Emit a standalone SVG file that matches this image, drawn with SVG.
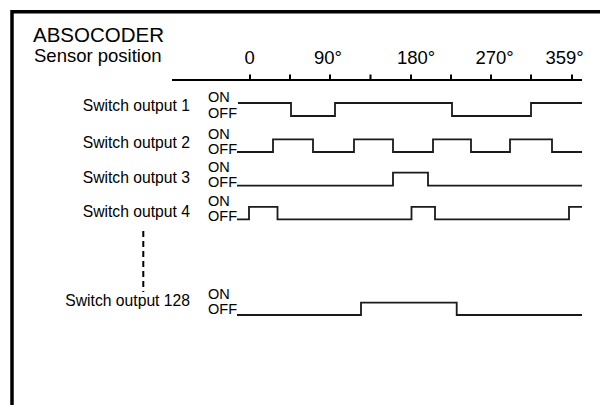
<svg xmlns="http://www.w3.org/2000/svg" width="600" height="405" viewBox="0 0 600 405">
<style>
text{font-family:"Liberation Sans",Arial,sans-serif;fill:#000}
.title{font-size:20.5px}
.sub{font-size:18.5px}
.ax{font-size:18.5px}
.lbl{font-size:15.7px;text-anchor:end}
.st{font-size:14.5px}
.sig{fill:none;stroke:#1a1a1a;stroke-width:1.8;stroke-linejoin:miter}
.axis{fill:none;stroke:#000;stroke-width:2}
</style>
<rect width="600" height="405" fill="#fff"/>
<path d="M12,405 V11.7 H600" fill="none" stroke="#000" stroke-width="3.5"/>
<text class="title" x="33" y="41.7">ABSOCODER</text>
<text class="sub" x="34" y="62">Sensor position</text>
<g id="axis">
<path class="axis" d="M172,80 H582 M250,74.5 V80 M290,74.5 V80 M330,74.5 V80 M370.5,74.5 V80 M411,74.5 V80 M451,74.5 V80 M491,74.5 V80 M531,74.5 V80 M572,74.5 V80"/>
<text class="ax" x="244.5" y="64">0</text>
<text class="ax" x="314" y="64">90°</text>
<text class="ax" x="397" y="64">180°</text>
<text class="ax" x="475.5" y="64">270°</text>
<text class="ax" x="545.5" y="64">359°</text>
</g>
<g id="switch1">
<text class="lbl" x="190" y="110.5">Switch output 1</text>
<text class="st" x="208" y="102">ON</text>
<text class="st" x="208" y="117.5">OFF</text>
<path class="sig" d="M238,103 H291 V116 H335 V103 H452 V116 H531 V103 H582"/>
</g>
<g id="switch2">
<text class="lbl" x="190" y="148">Switch output 2</text>
<text class="st" x="208" y="138.5">ON</text>
<text class="st" x="208" y="153.5">OFF</text>
<path class="sig" d="M237,152 H273 V139.3 H313 V152 H354 V139.3 H393 V152 H433 V139.3 H471 V152 H510 V139.3 H552 V152 H582"/>
</g>
<g id="switch3">
<text class="lbl" x="190" y="183">Switch output 3</text>
<text class="st" x="208" y="172">ON</text>
<text class="st" x="208" y="187">OFF</text>
<path class="sig" d="M237,185.7 H393 V172.7 H428 V185.7 H582"/>
</g>
<g id="switch4">
<text class="lbl" x="190" y="216.5">Switch output 4</text>
<text class="st" x="208" y="206">ON</text>
<text class="st" x="208" y="220.5">OFF</text>
<path class="sig" d="M237,219.3 H249 V206.8 H277.5 V219.3 H411.5 V206.8 H435 V219.3 H569 V206.8 H582"/>
</g>
<g id="connectors">
<path d="M143.3,231 V292" fill="none" stroke="#000" stroke-width="2" stroke-dasharray="6 4"/>
</g>
<g id="switch128">
<text class="lbl" x="190" y="306">Switch output 128</text>
<text class="st" x="208" y="298.5">ON</text>
<text class="st" x="208" y="314">OFF</text>
<path class="sig" d="M237,315 H361 V302.7 H456.7 V315 H582"/>
</g>
</svg>
